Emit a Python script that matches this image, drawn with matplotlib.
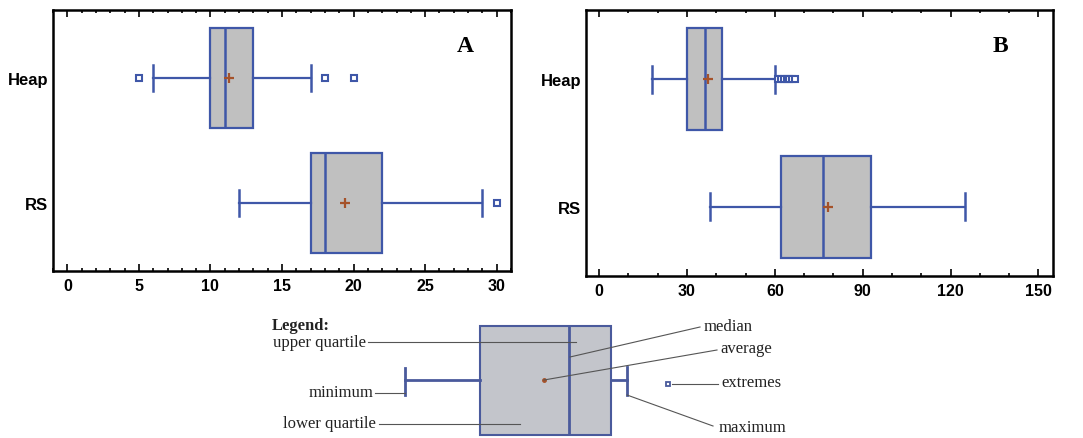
import matplotlib
matplotlib.use("Agg")
import matplotlib.pyplot as plt
from matplotlib.patches import Rectangle
from matplotlib.ticker import MultipleLocator

# ---------------- data ----------------
categories = ["RS", "Heap"]

# Panel A
a_min    = [12, 6]
a_q1     = [17, 10]
a_median = [18, 11]
a_q3     = [22, 13]
a_max    = [29, 17]
a_mean   = [19.4, 11.3]
a_fliers = [[30], [5, 18, 20]]

# Panel B
b_min    = [38, 18]
b_q1     = [62, 30]
b_median = [76.5, 36]
b_q3     = [93, 42]
b_max    = [125, 60]
b_mean   = [78, 37]
b_fliers = [[], [61, 62, 63, 64, 65, 66, 67]]

a_ticks = [0, 5, 10, 15, 20, 25, 30]
b_ticks = [0, 30, 60, 90, 120, 150]

W, H = 1083, 439
BLUE = "#3f57a8"
GRAY = "#c0c0c0"
BROWN = "#a5522a"

fig = plt.figure(figsize=(W / 100, H / 100), dpi=100)


def px_axes(left, top, right, bottom):
    return fig.add_axes([left / W, 1 - bottom / H, (right - left) / W, (bottom - top) / H])


def make_stats(mins, q1s, meds, q3s, maxs, means, fliers):
    stats = []
    for i in range(len(categories)):
        stats.append(dict(label=categories[i], whislo=mins[i], q1=q1s[i], med=meds[i],
                          q3=q3s[i], whishi=maxs[i], mean=means[i], fliers=fliers[i]))
    return stats


def draw_panel(ax, stats, xlim, ticks, minor, letter, letter_x):
    ax.bxp(stats, positions=[1, 2], widths=0.8, orientation="horizontal",
           patch_artist=True, showmeans=True, capwidths=0.21,
           boxprops=dict(facecolor=GRAY, edgecolor=BLUE, linewidth=1.6),
           medianprops=dict(color=BLUE, linewidth=1.8),
           whiskerprops=dict(color=BLUE, linewidth=1.6),
           capprops=dict(color=BLUE, linewidth=1.8),
           meanprops=dict(marker="+", markeredgecolor=BROWN, markersize=6.5, markeredgewidth=1.6),
           flierprops=dict(marker="s", markerfacecolor="white", markeredgecolor=BLUE,
                           markersize=4, markeredgewidth=1.5))
    ax.set_xlim(*xlim)
    ax.set_ylim(0.455, 2.545)
    ax.set_xticks(ticks)
    ax.xaxis.set_minor_locator(MultipleLocator(minor))
    ax.tick_params(axis="x", which="both", direction="in", top=True, bottom=True,
                   labelsize=11.5, pad=5, width=1.2)
    ax.tick_params(axis="x", which="major", length=5)
    ax.tick_params(axis="x", which="minor", length=2.5)
    ax.tick_params(axis="y", length=0, labelsize=12, pad=3.5)
    ax.set_yticks([1, 2])
    ax.set_yticklabels(categories)
    for lab in ax.get_xticklabels() + ax.get_yticklabels():
        lab.set_fontweight("bold")
        lab.set_family("Liberation Sans")
    for sp in ax.spines.values():
        sp.set_linewidth(1.8)
        sp.set_color("black")
    ax.text(letter_x, 0.865, letter, transform=ax.transAxes, ha="center", va="center",
            fontsize=17, fontweight="bold", family="Liberation Serif")


axA = px_axes(53, 11, 511, 272)
draw_panel(axA, make_stats(a_min, a_q1, a_median, a_q3, a_max, a_mean, a_fliers),
           (-1, 31), a_ticks, 1, "A", (465 - 53) / (511 - 53))

axB = px_axes(586, 11, 1053, 277)
draw_panel(axB, make_stats(b_min, b_q1, b_median, b_q3, b_max, b_mean, b_fliers),
           (-4.5, 155), b_ticks, 10, "B", (1000 - 586) / (1053 - 586))

# ---------------- legend schematic ----------------
lg = fig.add_axes([0, 0, 1, 1], zorder=-1)
lg.set_xlim(0, W)
lg.set_ylim(H, 0)
lg.axis("off")

LB = "#4a5a9c"
LG = "#c3c5cb"
LINE = "#555555"
lg.add_patch(Rectangle((480, 327), 131, 109, facecolor=LG, edgecolor=LB, linewidth=1.5))
lg.plot([569, 569], [327, 436], color=LB, lw=2, solid_capstyle="butt")
lg.plot([405, 480], [381, 381], color=LB, lw=2)
lg.plot([405, 405], [369, 396], color=LB, lw=2)
lg.plot([611, 627], [381, 381], color=LB, lw=2)
lg.plot([627, 627], [368, 396], color=LB, lw=2)
lg.plot([544], [381], marker="o", color=BROWN, markersize=2.5)
lg.plot([668], [385], marker="s", markerfacecolor="white", markeredgecolor=LB,
        markersize=3.5, markeredgewidth=1.3)

lw = 0.8
lg.plot([368, 576], [343, 343], color=LINE, lw=lw)
lg.plot([375, 405], [394, 394], color=LINE, lw=lw)
lg.plot([379, 520], [425, 425], color=LINE, lw=lw)
lg.plot([570, 700], [358, 328], color=LINE, lw=lw)
lg.plot([544, 717], [381, 351], color=LINE, lw=lw)
lg.plot([672, 718], [385, 385], color=LINE, lw=lw)
lg.plot([627, 713], [396, 427], color=LINE, lw=lw)

tkw = dict(family="Liberation Serif", fontsize=12, va="center", color="#222222")
lg.text(272, 326, "Legend:", fontweight="bold", ha="left", **tkw)
lg.text(366, 343, "upper quartile", ha="right", **tkw)
lg.text(373, 393, "minimum", ha="right", **tkw)
lg.text(376, 424, "lower quartile", ha="right", **tkw)
lg.text(704, 327, "median", ha="left", **tkw)
lg.text(720, 349, "average", ha="left", **tkw)
lg.text(721, 383, "extremes", ha="left", **tkw)
lg.text(719, 428, "maximum", ha="left", **tkw)

fig.savefig("out.png", dpi=100)
